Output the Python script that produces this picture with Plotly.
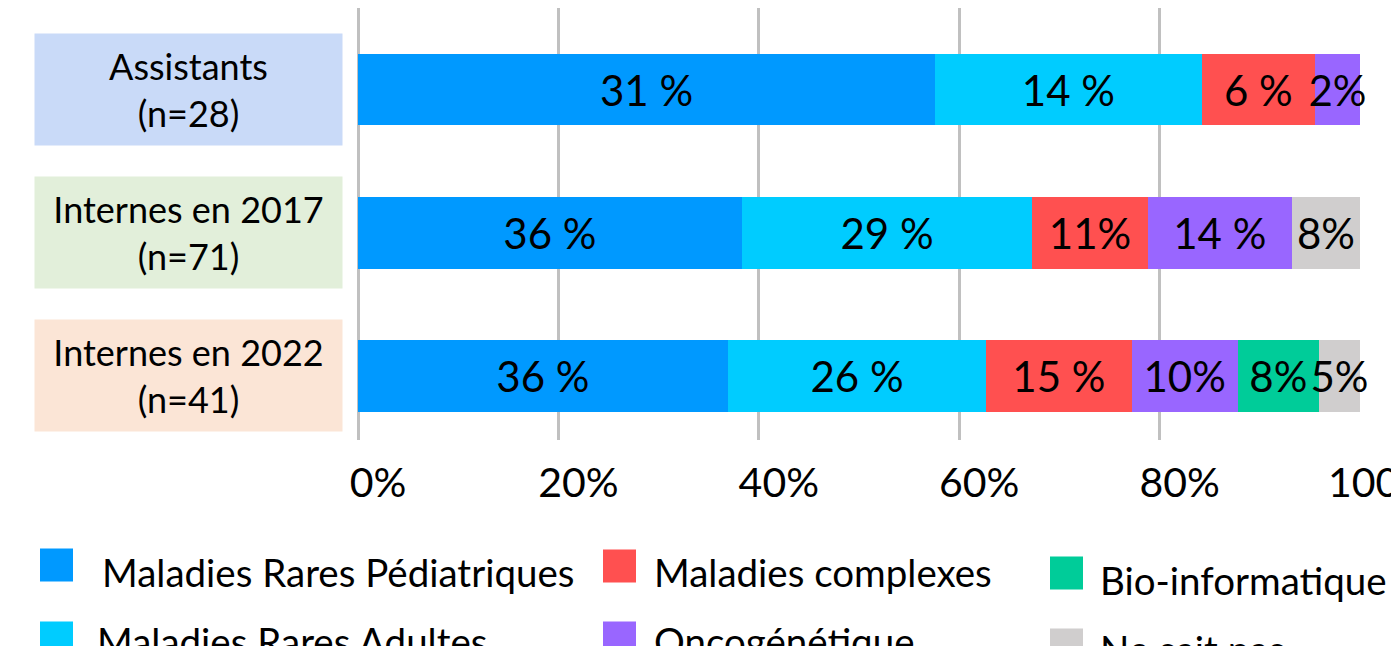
import plotly.graph_objects as go

# -------------------------------------------------
# Data
# -------------------------------------------------
groups = ["Assistants", "Internes en 2017", "Internes en 2022"]
group_labels = ["Assistants<br>(n=28)", "Internes en 2017<br>(n=71)", "Internes en 2022<br>(n=41)"]
group_colors = ["#c9daf8", "#e2efda", "#fbe5d6"]

series = [
    "Maladies Rares Pédiatriques",
    "Maladies Rares Adultes",
    "Maladies complexes",
    "Oncogénétique",
    "Bio-informatique",
    "Ne sait pas",
]
colors = ["#0099ff", "#00ccff", "#ff5050", "#9966ff", "#00cc99", "#d0cece"]

# bar share per group (in %)
pediatriques = [57.6, 38.3, 36.9]
adultes = [26.6, 29.0, 25.8]
complexes = [11.3, 11.5, 14.5]
onco = [4.5, 14.4, 10.6]
bioinfo = [None, None, 8.1]
ne_sait_pas = [None, 6.8, 4.1]
values = [pediatriques, adultes, complexes, onco, bioinfo, ne_sait_pas]

# printed labels
txt_pediatriques = ["31 %", "36 %", "36 %"]
txt_adultes = ["14 %", "29 %", "26 %"]
txt_complexes = ["6 %", "11%", "15 %"]
txt_onco = ["2%", "14 %", "10%"]
txt_bioinfo = ["", "", "8%"]
txt_ne_sait_pas = ["", "8%", "5%"]
texts = [txt_pediatriques, txt_adultes, txt_complexes, txt_onco, txt_bioinfo, txt_ne_sait_pas]

x_ticks = [0, 20, 40, 60, 80, 100]
x_ticktext = ["0%", "20%", "40%", "60%", "80%", "100%"]

FONT = "Lato"

# page layout (the html body adds an 8px margin, so work in page pixels
# and subtract it for the figure itself)
OFF = 8
PAGE_W, PAGE_H = 1399, 646
W, H = PAGE_W - OFF, PAGE_H - OFF
L, R, T, B = 358 - OFF, 1360 - OFF, 0, 440 - OFF


def px_x(px):
    return (px - OFF - L) / (R - L)


def px_y(py):
    return (B - (py - OFF)) / (B - T)


# -------------------------------------------------
# Bars
# -------------------------------------------------
fig = go.Figure()
for name, vals, txt, col in zip(series, values, texts, colors):
    fig.add_trace(go.Bar(
        y=groups,
        x=vals,
        name=name,
        orientation="h",
        marker=dict(color=col, line=dict(width=0)),
        text=txt,
        textposition="inside",
        insidetextanchor="middle",
        textangle=0,
        constraintext="none",
        cliponaxis=False,
        textfont=dict(family=FONT, size=42, color="black"),
        width=0.5,
        showlegend=False,
    ))

# -------------------------------------------------
# Group label boxes
# -------------------------------------------------
for g, lab, bg in zip(groups, group_labels, group_colors):
    fig.add_annotation(
        x=px_x(188), xref="paper", y=g, yref="y",
        text=lab, showarrow=False,
        font=dict(family=FONT, size=36, color="black"),
        bgcolor=bg, width=307, height=111, borderpad=0,
        xanchor="center", yanchor="middle",
    )

# -------------------------------------------------
# Legend (3 columns x 2 rows, large swatches)
# -------------------------------------------------
sw_left = [40, 603, 1050]
txt_left = [[100, 95], [652, 652], [1098, 1098]]
sw_cy = [[565, 638], [566, 638], [573, 645]]
txt_cy = [[572, 641], [572, 641], [580, 649]]
for i, (name, col) in enumerate(zip(series, colors)):
    c, r = i // 2, i % 2
    fig.add_shape(
        type="rect", xref="paper", yref="paper",
        x0=px_x(sw_left[c]), x1=px_x(sw_left[c] + 33),
        y0=px_y(sw_cy[c][r] - 16.5), y1=px_y(sw_cy[c][r] + 16.5),
        fillcolor=col, line=dict(width=0),
    )
    fig.add_annotation(
        x=px_x(txt_left[c][r]), xref="paper",
        y=px_y(txt_cy[c][r]), yref="paper",
        text=name, showarrow=False, xanchor="left", yanchor="middle",
        font=dict(family=FONT, size=38.5, color="black"),
    )

fig.update_layout(
    width=W, height=H,
    margin=dict(l=L, r=W - R, t=T, b=H - B, autoexpand=False),
    barmode="stack",
    plot_bgcolor="white",
    paper_bgcolor="white",
    font=dict(family=FONT, color="black"),
    showlegend=False,
)
fig.update_xaxes(
    range=[0, 100],
    tickvals=x_ticks, ticktext=x_ticktext,
    showgrid=True, gridcolor="#c0c0c0", gridwidth=3,
    zeroline=True, zerolinecolor="#c0c0c0", zerolinewidth=3,
    showline=False, ticks="",
    tickfont=dict(family=FONT, size=41, color="black"),
    ticklabelshift=20, ticklabelstandoff=15,
    ticklabeloverflow="allow",
    fixedrange=True,
)
fig.update_yaxes(
    range=[2.447, -0.569],
    showticklabels=False, showgrid=False, zeroline=False,
    fixedrange=True,
)

fig.write_html("out.html")
